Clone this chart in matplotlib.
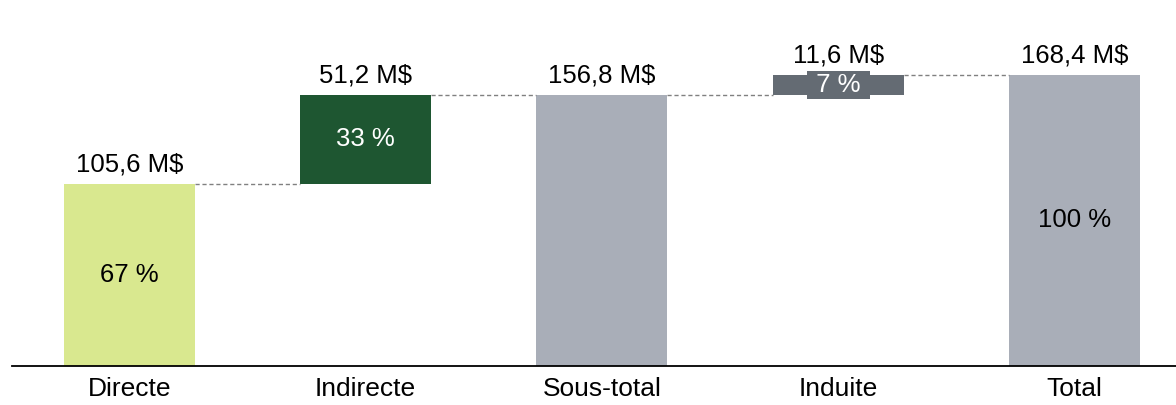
import matplotlib.pyplot as plt

plt.rcParams['font.family'] = ['Liberation Sans', 'DejaVu Sans']

categories = ['Directe', 'Indirecte', 'Sous-total', 'Induite', 'Total']
values = [105.6, 51.2, 156.8, 11.6, 168.4]
is_total = [False, False, True, False, True]
pct_labels = ['67 %', '33 %', '', '7 %', '100 %']
colors = ['#d9e88f', '#1e5631', '#a9aeb8', '#646b73', '#a9aeb8']
pct_colors = ['#000000', '#ffffff', '#000000', '#ffffff', '#000000']

fig = plt.figure(figsize=(11.76, 4.05), dpi=100)
ax = fig.add_axes([0.0102, 0.0963, 0.9898, 0.9037])

# compute bottoms for waterfall
bottoms = []
running = 0
for v, t in zip(values, is_total):
    if t:
        bottoms.append(0)
        running = v
    else:
        bottoms.append(running)
        running += v

x = list(range(len(categories)))
w = 0.555
ax.bar(x, values, bottom=bottoms, width=w, color=colors)

# value labels
for i, (v, b) in enumerate(zip(values, bottoms)):
    ax.text(i, b + v + 7, f'{v:.1f}'.replace('.', ',') + ' M$',
            ha='center', va='baseline', fontsize=18.5)

# percent labels
for i, (v, b) in enumerate(zip(values, bottoms)):
    if not pct_labels[i]:
        continue
    if categories[i] == 'Induite':
        ax.text(i, b + v / 2, ' ' + pct_labels[i] + ' ', ha='center', va='center',
                fontsize=18.5, color=pct_colors[i],
                bbox=dict(boxstyle='square,pad=0.08', fc=colors[i], ec='none'))
    else:
        ax.text(i, b + v / 2, pct_labels[i], ha='center', va='center',
                fontsize=18.5, color=pct_colors[i])

# connectors
for i in range(len(values) - 1):
    top = bottoms[i] + values[i]
    ax.plot([i + w / 2, i + 1 - w / 2], [top, top], ls='--', color='#808080',
            lw=1, dashes=(3, 2))

ax.set_xlim(-0.497, 4.43)
ax.set_ylim(0, 211.8)
ax.set_xticks(x)
ax.set_xticklabels(categories, fontsize=19)
ax.tick_params(axis='x', length=0, pad=8)
ax.set_yticks([])
for s in ['top', 'right', 'left']:
    ax.spines[s].set_visible(False)
ax.spines['bottom'].set_linewidth(1.3)

fig.savefig('out.png', dpi=100)
